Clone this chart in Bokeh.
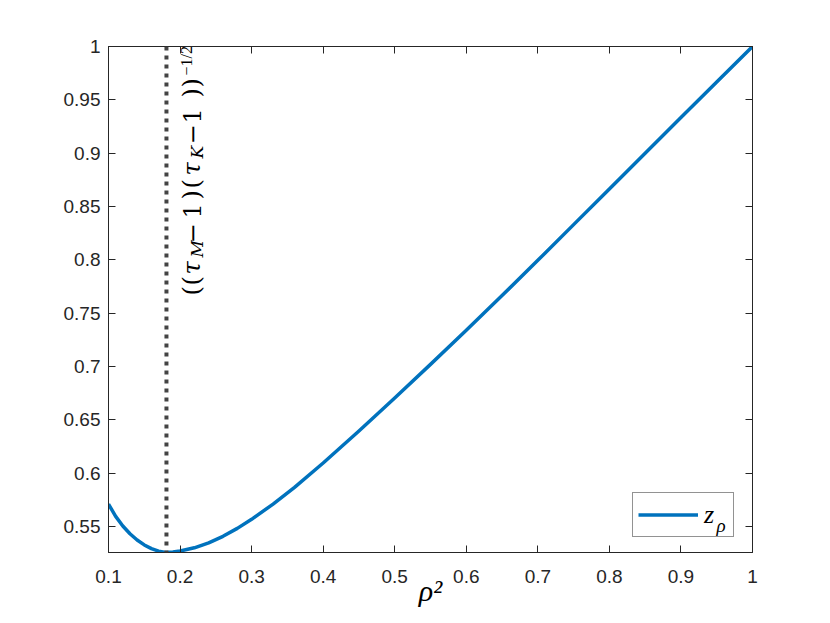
import math
from bokeh.plotting import figure
from bokeh.models import Range1d, LinearAxis, FixedTicker, Span, Label, Legend, LegendItem
from bokeh.embed import file_html
from bokeh.resources import INLINE

# ---------------- data ----------------
rho2 = [0.10, 0.11, 0.12, 0.13, 0.14, 0.15, 0.16, 0.17, 0.18, 0.19, 0.20,
        0.22, 0.24, 0.26, 0.28, 0.30, 0.33, 0.36, 0.40, 0.45, 0.50, 0.55,
        0.60, 0.65, 0.70, 0.75, 0.80, 0.85, 0.90, 0.95, 1.00]
z_rho = [0.571, 0.5595, 0.5505, 0.5432, 0.5373, 0.5327, 0.5292, 0.5268, 0.5256, 0.5260, 0.5270,
         0.5300, 0.5347, 0.5408, 0.5482, 0.5567, 0.5710, 0.5866, 0.6095, 0.6395, 0.6705, 0.7020,
         0.7340, 0.7665, 0.7995, 0.8330, 0.8665, 0.9000, 0.9335, 0.9668, 1.0000]
vline_x = 0.181  # ((tau_M - 1)(tau_K - 1))^(-1/2)

x_ticks = [0.1, 0.2, 0.3, 0.4, 0.5, 0.6, 0.7, 0.8, 0.9, 1.0]
x_tick_labels = ["0.1", "0.2", "0.3", "0.4", "0.5", "0.6", "0.7", "0.8", "0.9", "1"]
y_ticks = [0.55, 0.6, 0.65, 0.7, 0.75, 0.8, 0.85, 0.9, 0.95, 1.0]
y_tick_labels = ["0.55", "0.6", "0.65", "0.7", "0.75", "0.8", "0.85", "0.9", "0.95", "1"]

x_label = "\u03c1\u00b2"
legend_main = "z"
legend_sub = "\u03c1"

# ---------------- figure ----------------
AX = "#262626"
p = figure(frame_width=644, frame_height=506,
           min_border_left=108, min_border_right=62, min_border_top=46, min_border_bottom=56,
           x_range=Range1d(rho2[0], rho2[-1]), y_range=Range1d(min(z_rho), 1.0),
           output_backend="svg", toolbar_location=None)
p.grid.visible = False
p.outline_line_color = AX
p.outline_line_width = 1
p.background_fill_color = "white"
p.border_fill_color = "white"

p.add_layout(LinearAxis(), "above")
p.add_layout(LinearAxis(), "right")

def style_axis(ax, ticks, labels, show):
    ax.ticker = FixedTicker(ticks=ticks, minor_ticks=[])
    ax.major_label_overrides = {t: (l if show else "") for t, l in zip(ticks, labels)}
    ax.axis_line_color = AX
    ax.major_tick_line_color = AX
    ax.major_tick_in = 7
    ax.major_tick_out = 0
    ax.minor_tick_in = 0
    ax.minor_tick_out = 0
    ax.major_label_text_font = "Liberation Sans"
    ax.major_label_text_font_size = "19px"
    ax.major_label_text_color = AX

for ax in p.below + p.above:
    style_axis(ax, x_ticks, x_tick_labels, ax in p.below)
for ax in p.left + p.right:
    style_axis(ax, y_ticks, y_tick_labels, ax in p.left)

p.below[0].major_label_standoff = 17
p.left[0].major_label_standoff = 8
for ax in p.above + p.right:
    ax.major_label_standoff = 0

xa = p.below[0]
xa.axis_label = x_label
xa.axis_label_text_font = "Liberation Serif"
xa.axis_label_text_font_style = "italic"
xa.axis_label_text_font_size = "30px"
xa.axis_label_text_color = "black"
xa.axis_label_standoff = -12

# ---------------- glyphs ----------------
vline = Span(location=vline_x, dimension="height", line_color="#444444",
             line_width=4, line_dash="4 5")
p.add_layout(vline)

r = p.line(rho2, z_rho, line_color="#0072BD", line_width=3.5, line_join="round")

legend = Legend(items=[LegendItem(label=legend_main, renderers=[r])],
                location=(524, 15), glyph_width=60, glyph_height=33,
                label_height=33, label_width=24, label_standoff=6,
                padding=5, spacing=0, margin=0,
                border_line_color=AX, border_line_width=1,
                background_fill_color="white", background_fill_alpha=0,
                label_text_font="Liberation Serif", label_text_font_style="italic",
                label_text_font_size="26px", label_text_color="black")
p.add_layout(legend)

sub_label = Label(x=rho2[-1], y=min(z_rho), x_offset=-36, y_offset=27,
                  text=legend_sub, text_font="Liberation Serif",
                  text_font_style="italic", text_font_size="19px",
                  text_baseline="alphabetic", text_align="left", text_color="black",
                  level="overlay")
p.add_layout(sub_label)

# rotated math annotation ((tau_M - 1)(tau_K - 1))^(-1/2), placed glyph by glyph
MF = "DejaVu Serif"
pieces = [
    ("(", "normal", 24, 295, 26, MF),
    ("(", "normal", 24, 285, 26, MF),
    ("\u03c4", "italic", 24, 274, 26, MF),
    ("M", "italic", 17, 257, 31, MF),
    ("\u2212", "normal", 24, 243, 26, MF),
    ("1", "normal", 24, 218, 26, MF),
    (")", "normal", 24, 199, 26, MF),
    ("(", "normal", 24, 188, 26, MF),
    ("\u03c4", "italic", 24, 175, 26, MF),
    ("K", "italic", 17, 158, 31, MF),
    ("\u2212", "normal", 24, 144, 26, MF),
    ("1", "normal", 24, 123, 26, MF),
    (")", "normal", 24, 97, 26, MF),
    (")", "normal", 24, 87, 26, MF),
    ("\u22121/2", "normal", 16, 75, 20, "Liberation Serif"),
]
for txt, style, size, start_px, xoff, font in pieces:
    p.add_layout(Label(x=vline_x, y=1.0, x_offset=xoff, y_offset=46 - start_px,
                       angle=math.pi / 2, text=txt, text_font=font,
                       text_font_style=style, text_font_size=f"{size}px",
                       text_baseline="alphabetic", text_align="left", text_color="black"))

open("out.html", "w").write(file_html(p, INLINE))
